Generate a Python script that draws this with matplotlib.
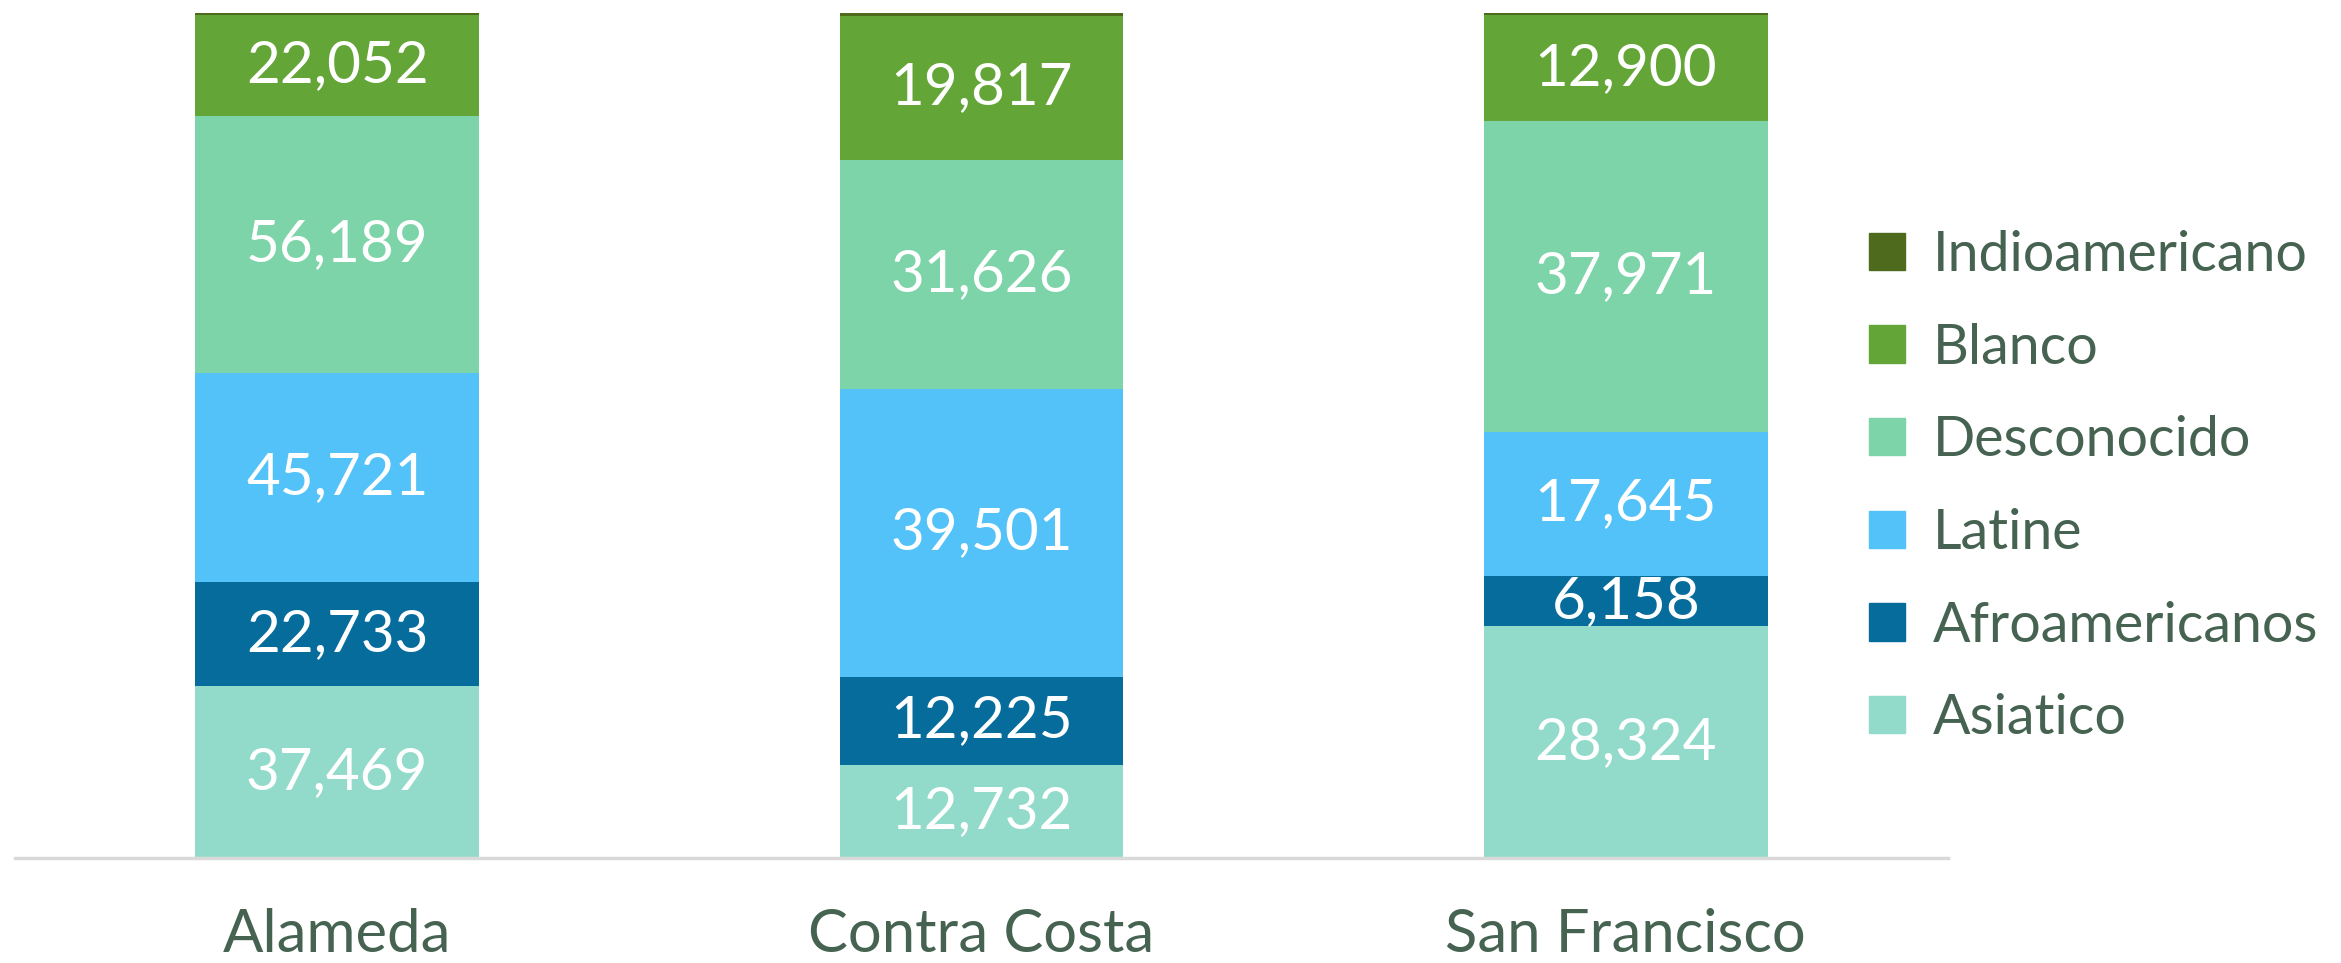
import numpy as np
import matplotlib
matplotlib.use("Agg")
from matplotlib import pyplot as plt
from matplotlib.patches import Patch

plt.rcParams['font.family'] = ['Lato', 'DejaVu Sans']

# Counties and the counts per group (bottom to top of each bar)
counties = ["Alameda", "Contra Costa", "San Francisco"]
groups = ["Asiatico", "Afroamericanos", "Latine", "Desconocido", "Blanco", "Indioamericano"]
asiatico = [37469, 12732, 28324]
afro = [22733, 12225, 6158]
latine = [45721, 39501, 17645]
desconocido = [56189, 31626, 37971]
blanco = [22052, 19817, 12900]
indio = [400, 350, 300]  # thin top sliver, no label shown

colors = ["#92DBCB", "#066C9C", "#52C2F8", "#7DD4A8", "#63A537", "#4E6A1C"]
text_col = "#466352"

series = [asiatico, afro, latine, desconocido, blanco, indio]
counts = np.array(series, dtype=float)
totals = counts.sum(axis=0)
shares = counts / totals

fig = plt.figure(figsize=(23.41, 9.63), dpi=100)
ax = fig.add_axes([15 / 2341, 105 / 963, 1933 / 2341, 845 / 963])

x = np.arange(len(counties))
bottom = np.zeros(len(counties))
for i, (name, col) in enumerate(zip(groups, colors)):
    bars = ax.bar(x, shares[i], 0.44, bottom=bottom, color=col, label=name, linewidth=0)
    if name != "Indioamericano":
        for j, b in enumerate(bars):
            ax.text(b.get_x() + b.get_width() / 2, bottom[j] + shares[i][j] / 2,
                    f"{int(counts[i][j]):,}", ha="center", va="center",
                    color="white", fontsize=42)
    bottom += shares[i]

ax.set_xlim(-0.5, 2.5)
ax.set_ylim(0, 1)
ax.set_yticks([])
ax.set_xticks(x)
ax.set_xticklabels(counties, fontsize=43, color=text_col)
ax.tick_params(axis="x", length=0, pad=36)
for s in ["top", "right", "left"]:
    ax.spines[s].set_visible(False)
ax.spines["bottom"].set_color("#D9D9D9")
ax.spines["bottom"].set_linewidth(2.5)

handles = [Patch(color=c, label=g) for g, c in zip(groups, colors)][::-1]
leg = fig.legend(handles=handles, loc="center left", bbox_to_anchor=(1869 / 2341, 1 - 487 / 963),
                 frameon=False, fontsize=40, handlelength=0.65, handleheight=0.65,
                 handletextpad=0.5, labelspacing=0.75, borderpad=0, borderaxespad=0)
for t in leg.get_texts():
    t.set_color(text_col)

fig.savefig("out.png", dpi=100)
